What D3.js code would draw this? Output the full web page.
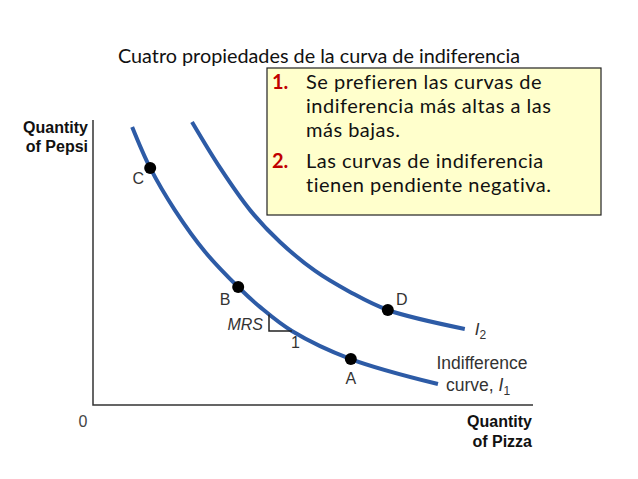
<!DOCTYPE html>
<html lang="es">
<head>
<meta charset="UTF-8">
<title>Curva de indiferencia</title>
<style>
  body { margin: 0; background: #fff; }
  svg { display: block; }
  text { font-variant-ligatures: none; font-feature-settings: "liga" 0; }
</style>
</head>
<body>
<svg id="chart" width="638" height="479"></svg>
<script src="https://cdn.jsdelivr.net/npm/d3@7/dist/d3.min.js"></script>
<script>
// curve points (x = pizza, y = pepsi, 0..10)
const curveI1 = [[0.89, 9.69], [1.3, 8.26], [1.86, 6.79], [2.55, 5.33], [3.3, 4.11], [3.8, 3.41], [4.52, 2.58], [5.86, 1.6], [7.84, 0.73]];
const curveI2 = [[2.25, 9.86], [2.89, 8.26], [3.57, 6.79], [4.25, 5.68], [5.05, 4.67], [5.84, 3.94], [6.7, 3.31], [8.45, 2.65]];
const pointNames = ["A", "B", "C", "D"];
const pointValues = [[5.86, 1.6], [3.3, 4.11], [1.3, 8.26], [6.7, 3.31]];
const mrsX = [4.0, 4.52];
const mrsY = [3.15, 2.58];
const boxItems = [
  { num: "1.", lines: ["Se prefieren las curvas de", "indiferencia más altas a las", "más bajas."] },
  { num: "2.", lines: ["Las curvas de indiferencia", "tienen pendiente negativa."] }
];

const svg = d3.select("#chart");
const x = d3.scaleLinear().domain([0, 10]).range([93, 533]);
const y = d3.scaleLinear().domain([0, 10]).range([405, 118]);

// axes: just the two lines
svg.append("path")
  .attr("d", `M${x(0)},${y(10) + 2}V${y(0)}H${x(10)}`)
  .attr("fill", "none").attr("stroke", "#333").attr("stroke-width", 1.5);

const line = d3.line().x(d => x(d[0])).y(d => y(d[1])).curve(d3.curveCatmullRom.alpha(0.5));
[curveI1, curveI2].forEach(c => {
  svg.append("path").attr("d", line(c))
    .attr("fill", "none").attr("stroke", "#2d5ba6").attr("stroke-width", 4);
});

// MRS triangle
svg.append("path")
  .attr("d", `M${x(mrsX[0])},${y(mrsY[0])}V${y(mrsY[1])}H${x(mrsX[1])}`)
  .attr("fill", "none").attr("stroke", "#222").attr("stroke-width", 1.5);

const labelFont = "'Liberation Sans', Arial, sans-serif";
svg.append("text").attr("x", x(mrsX[0]) - 6).attr("y", y(mrsY[1]) - 1)
  .attr("text-anchor", "end").attr("font-family", labelFont).attr("font-style", "italic")
  .attr("font-size", 16).attr("fill", "#333").text("MRS");
svg.append("text").attr("x", (x(mrsX[0]) + x(mrsX[1])) / 2 + 15).attr("y", y(mrsY[1]) + 17)
  .attr("text-anchor", "middle").attr("font-family", labelFont)
  .attr("font-size", 16).attr("fill", "#333").text("1");

// points
svg.selectAll("circle.pt").data(pointValues).join("circle").attr("class", "pt")
  .attr("cx", d => x(d[0])).attr("cy", d => y(d[1])).attr("r", 6).attr("fill", "#000");

const offsets = { A: [0, 25], B: [-13, 18], C: [-12, 16], D: [14, -5] };
svg.selectAll("text.pt").data(pointNames).join("text").attr("class", "pt")
  .attr("x", (d, i) => x(pointValues[i][0]) + offsets[d][0])
  .attr("y", (d, i) => y(pointValues[i][1]) + offsets[d][1])
  .attr("text-anchor", "middle").attr("font-family", labelFont)
  .attr("font-size", 16).attr("fill", "#333").text(d => d);

// curve labels
const end2 = curveI2[curveI2.length - 1];
const l2 = svg.append("text").attr("x", x(end2[0]) + 10).attr("y", y(end2[1]) + 6)
  .attr("font-family", labelFont).attr("font-size", 17).attr("fill", "#333");
l2.append("tspan").attr("font-style", "italic").text("I");
l2.append("tspan").attr("font-size", 12).attr("dy", 4).text("2");

svg.append("text").attr("x", 482).attr("y", 369).attr("text-anchor", "middle")
  .attr("font-family", labelFont).attr("font-size", 17.5).attr("fill", "#333").text("Indifference");
const l1 = svg.append("text").attr("x", 446).attr("y", 391)
  .attr("font-family", labelFont).attr("font-size", 17.5).attr("fill", "#333");
l1.append("tspan").text("curve, ");
l1.append("tspan").attr("font-style", "italic").text("I");
l1.append("tspan").attr("font-size", 12).attr("dy", 4).text("1");

// axis titles
const axisLabels = [
  { x: 88, y: 133, t: "Quantity" }, { x: 88, y: 152, t: "of Pepsi" },
  { x: 532, y: 427, t: "Quantity" }, { x: 532, y: 447, t: "of Pizza" }
];
svg.selectAll("text.ax").data(axisLabels).join("text").attr("class", "ax")
  .attr("x", d => d.x).attr("y", d => d.y).attr("text-anchor", "end")
  .attr("font-family", labelFont).attr("font-weight", "bold").attr("font-size", 16)
  .attr("fill", "#111").text(d => d.t);
svg.append("text").attr("x", 83).attr("y", 427).attr("text-anchor", "middle")
  .attr("font-family", labelFont).attr("font-size", 16).attr("fill", "#444").text("0");

// title
const boxFont = "Lato, 'Open Sans', sans-serif";
svg.append("text").attr("x", 118).attr("y", 63)
  .attr("font-family", boxFont).attr("font-size", 18.5).attr("fill", "#111")
  .attr("textLength", 402).attr("lengthAdjust", "spacingAndGlyphs")
  .text("Cuatro propiedades de la curva de indiferencia");

// note box
svg.append("rect").attr("x", 267).attr("y", 68).attr("width", 334).attr("height", 147)
  .attr("fill", "#ffffcc").attr("stroke", "#222").attr("stroke-width", 1.2);

let baseY = 89;
boxItems.forEach(item => {
  svg.append("text").attr("x", 272).attr("y", baseY)
    .attr("font-family", boxFont).attr("font-weight", "bold").attr("font-size", 20)
    .attr("fill", "#c00000").text(item.num);
  item.lines.forEach((ln, j) => {
    svg.append("text").attr("x", 306).attr("y", baseY + j * 24)
      .attr("font-family", boxFont).attr("font-size", 20).attr("letter-spacing", 0.5)
      .attr("fill", "#111").text(ln);
  });
  baseY += item.lines.length * 24 + 7;
});
</script>
</body>
</html>
